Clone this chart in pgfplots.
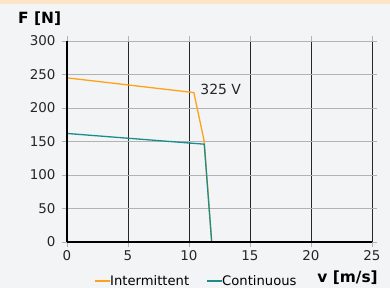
\documentclass[border=0pt]{standalone}
\usepackage{pgfplots}
\pgfplotsset{compat=1.18}
\usepackage{fontspec}
\setmainfont{DejaVu Sans}
\definecolor{bg}{HTML}{F3F4F6}
\definecolor{band}{HTML}{FDE4C6}
\definecolor{orng}{HTML}{FFA21A}
\definecolor{teal}{HTML}{1A8C8A}
\begin{document}
\begin{tikzpicture}[x=1bp,y=1bp]
\fill[bg] (0,0) rectangle (390,288);
\fill[band] (0,284) rectangle (390,288);
\begin{axis}[
  at={(67bp,46bp)}, anchor=origin,
  scale only axis, width=305bp, height=201bp,
  xmin=0, xmax=25, ymin=0, ymax=300,
  xtick={0,5,...,25}, ytick={0,50,...,300},
  axis line style={draw=none},
  grid=both,
  x grid style={black!85, line width=0.5pt},
  y grid style={gray!60, line width=0.5pt},
  tick align=outside,
  major tick length=5bp,
  tick style={gray!60, line width=0.5pt},
  every tick label/.append style={font=\fontsize{13.5}{15}\selectfont, text=black!85},
  /pgf/number format/assume math mode=true,
  yticklabel style={xshift=-3bp},
  xticklabel style={yshift=0bp},
  clip=false,
]
\addplot[orng, line width=1.3pt] coordinates {(0,245) (10.4,223) (11.25,150) (11.86,0)};
\addplot[teal, line width=1.3pt] coordinates {(0,162) (11.25,146) (11.86,0)};
\draw[black, line width=2pt] (axis cs:0,0) -- (axis cs:0,300);
\draw[black, line width=2pt] (axis cs:0,0) -- (axis cs:25,0);
\node[font=\fontsize{14}{15}\selectfont, text=black!85] at (axis cs:12.6,228) {325 V};
\end{axis}
\node[font=\bfseries\fontsize{15.5}{16}\selectfont, anchor=base west, inner sep=0pt] at (18bp,264bp) {F [N]};
\node[font=\bfseries\fontsize{15.5}{16}\selectfont, anchor=base east, inner sep=0pt] at (378bp,6bp) {v [m/s]};
\draw[orng, line width=1.3pt] (95bp,7bp) -- (110bp,7bp);
\node[font=\fontsize{13.2}{14}\selectfont, anchor=base west, inner sep=0pt] at (110bp,2.5bp) {Intermittent};
\draw[teal, line width=1.3pt] (207bp,7bp) -- (222bp,7bp);
\node[font=\fontsize{13.2}{14}\selectfont, anchor=base west, inner sep=0pt] at (222bp,2.5bp) {Continuous};
\end{tikzpicture}
\end{document}
